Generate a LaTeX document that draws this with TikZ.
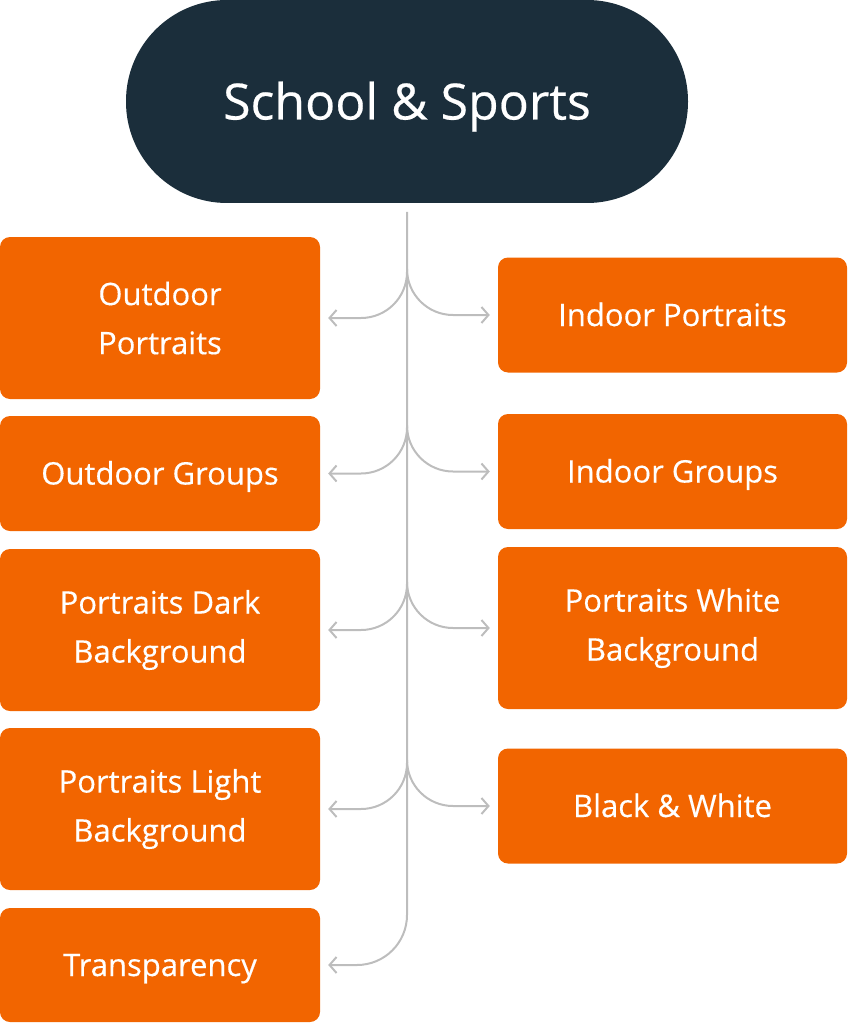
\documentclass[tikz,border=0pt]{standalone}
\usepackage{fontspec}
\setmainfont{Open Sans}[FakeBold=0.4]
\usetikzlibrary{arrows.meta}
\definecolor{navy}{HTML}{1B2E3B}
\definecolor{tangerine}{HTML}{F26500}
\definecolor{stemgrey}{HTML}{BDBDBD}
\begin{document}
\begin{tikzpicture}[x=1pt,y=-1pt,
	cat/.style={fill=tangerine,rounded corners=10pt,text=white,align=center,
		font=\fontsize{31}{49}\selectfont,inner sep=0pt},
	single/.style={cat,text height=22pt,text depth=0pt},
	link/.style={draw=stemgrey,line width=2pt,rounded corners=46pt,shorten >=8pt,
		-{Straight Barb[length=7pt,width=16pt]}}]
	\useasboundingbox (0,0) rectangle (847,1024);
	\node[fill=navy,rounded corners=101pt,minimum width=562pt,minimum height=203pt,
		text=white,font=\fontsize{50}{60}\selectfont,text height=36pt,text depth=0pt] (root) at (407,101.5) {School \& Sports};
	
	% left column
	\node[cat,minimum width=320pt,minimum height=162pt]    (l1) at (160,318)   {Outdoor\\Portraits};
	\node[single,minimum width=320pt,minimum height=115pt] (l2) at (160,473.5) {Outdoor Groups};
	\node[cat,minimum width=320pt,minimum height=162pt]    (l3) at (160,630)   {Portraits Dark\\Background};
	\node[cat,minimum width=320pt,minimum height=162pt]    (l4) at (160,809)   {Portraits Light\\Background};
	\node[single,minimum width=320pt,minimum height=114pt] (l5) at (160,965)   {Transparency};
	% right column
	\node[single,minimum width=349pt,minimum height=115pt] (r1) at (672.5,315) {Indoor Portraits};
	\node[single,minimum width=349pt,minimum height=115pt] (r2) at (672.5,471.5) {Indoor Groups};
	\node[cat,minimum width=349pt,minimum height=162pt]    (r3) at (672.5,628) {Portraits White\\Background};
	\node[single,minimum width=349pt,minimum height=115pt] (r4) at (672.5,806) {Black \& White};
	
	\coordinate (top) at (407,212);
	\coordinate (k1) at (407,272);
	\coordinate (k2) at (407,427);
	\coordinate (k3) at (407,584);
	\coordinate (k4) at (407,762);
	
	\draw[link,rounded corners=50pt] (top) |- (l5.east);
	\foreach \k\l\r in {k1/l1/r1, k2/l2/r2, k3/l3/r3, k4/l4/r4}
	{	\draw[link] (\k) |- (\l.east);
		\draw[link] (\k) |- (\r.west);
	}
\end{tikzpicture}
\end{document}
